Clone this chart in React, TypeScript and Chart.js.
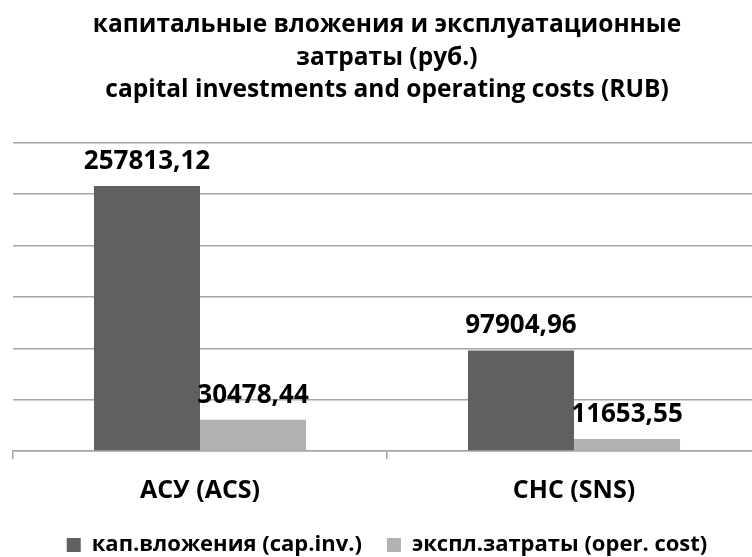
import React, { useEffect, useRef } from "react";
import { Chart, registerables } from "chart.js";

Chart.register(...registerables);

const categories = ["АСУ (ACS)", "СНС (SNS)"];
const seriesNames = ["кап.вложения (cap.inv.)", "экспл.затраты (oper. cost)"];
const capInv = [257813.12, 97904.96];
const operCost = [30478.44, 11653.55];
const titleLines = [
  "капитальные вложения и эксплуатационные",
  "затраты (руб.)",
  "capital investments and operating costs (RUB)",
];
const yMin = 0;
const yMax = 300000;
const yStep = 50000;

const FONT = "'Open Sans', 'Noto Sans', sans-serif";
const DARK = "#606060";
const LIGHT = "#b2b2b2";
const GRID = "#a6a6a6";

const fmt = (v: number) => v.toFixed(2).replace(".", ",");

const valueLabels = {
  id: "valueLabels",
  afterDatasetsDraw(chart: any) {
    const ctx = chart.ctx;
    ctx.save();
    ctx.font = `bold 26px ${FONT}`;
    ctx.fillStyle = "#000";
    ctx.textAlign = "center";
    ctx.textBaseline = "alphabetic";
    chart.data.datasets.forEach((ds: any, di: number) => {
      const meta = chart.getDatasetMeta(di);
      meta.data.forEach((el: any, i: number) => {
        ctx.fillText(fmt(ds.data[i]), el.x, el.y - 17);
      });
    });
    ctx.restore();
  },
};

export default function App() {
  const ref = useRef<HTMLCanvasElement | null>(null);
  useEffect(() => {
    if (!ref.current) return;
    const chart = new Chart(ref.current, {
      type: "bar",
      data: {
        labels: categories,
        datasets: [
          {
            label: seriesNames[0],
            data: capInv,
            backgroundColor: DARK,
            borderWidth: 0,
          },
          {
            label: seriesNames[1],
            data: operCost,
            backgroundColor: LIGHT,
            borderWidth: 0,
          },
        ],
      },
      options: {
        animation: false,
        responsive: false,
        devicePixelRatio: 1,
        layout: { padding: { left: 13, right: 13, top: 0, bottom: 0 } },
        datasets: { bar: { categoryPercentage: 0.567, barPercentage: 1 } },
        plugins: {
          tooltip: { enabled: false },
          title: {
            display: true,
            text: titleLines,
            color: "#000",
            font: { family: FONT, size: 24.5, weight: "bold", lineHeight: 1.33 },
            padding: { top: 9, bottom: 36 },
          },
          legend: {
            display: true,
            position: "bottom",
            labels: {
              color: "#000",
              boxWidth: 14,
              boxHeight: 14,
              padding: 25,
              font: { family: FONT, size: 22, weight: "bold" },
            },
          },
        },
        scales: {
          x: {
            grid: {
              offset: true,
              drawOnChartArea: false,
              drawTicks: true,
              tickLength: 8,
              color: GRID,
              lineWidth: 1.5,
            },
            border: { display: true, color: GRID, width: 1.5 },
            ticks: {
              color: "#000",
              padding: 17,
              font: { family: FONT, size: 25, weight: "bold" },
            },
            afterFit: (s: any) => {
              s.height = 58;
            },
          },
          y: {
            min: yMin,
            max: yMax,
            ticks: { display: false, stepSize: yStep },
            grid: { drawTicks: false, color: GRID, lineWidth: 1.5 },
            border: { display: false },
            afterFit: (s: any) => {
              s.width = 0;
            },
          },
        },
      },
      plugins: [valueLabels],
    });
    return () => chart.destroy();
  }, []);
  return (
    <div
      style={{
        position: "fixed",
        left: 0,
        top: 0,
        width: 752,
        height: 557,
        overflow: "hidden",
        background: "#fff",
      }}
    >
      <canvas ref={ref} width={774} height={566} style={{ width: 774, height: 566, display: "block" }} />
    </div>
  );
}
